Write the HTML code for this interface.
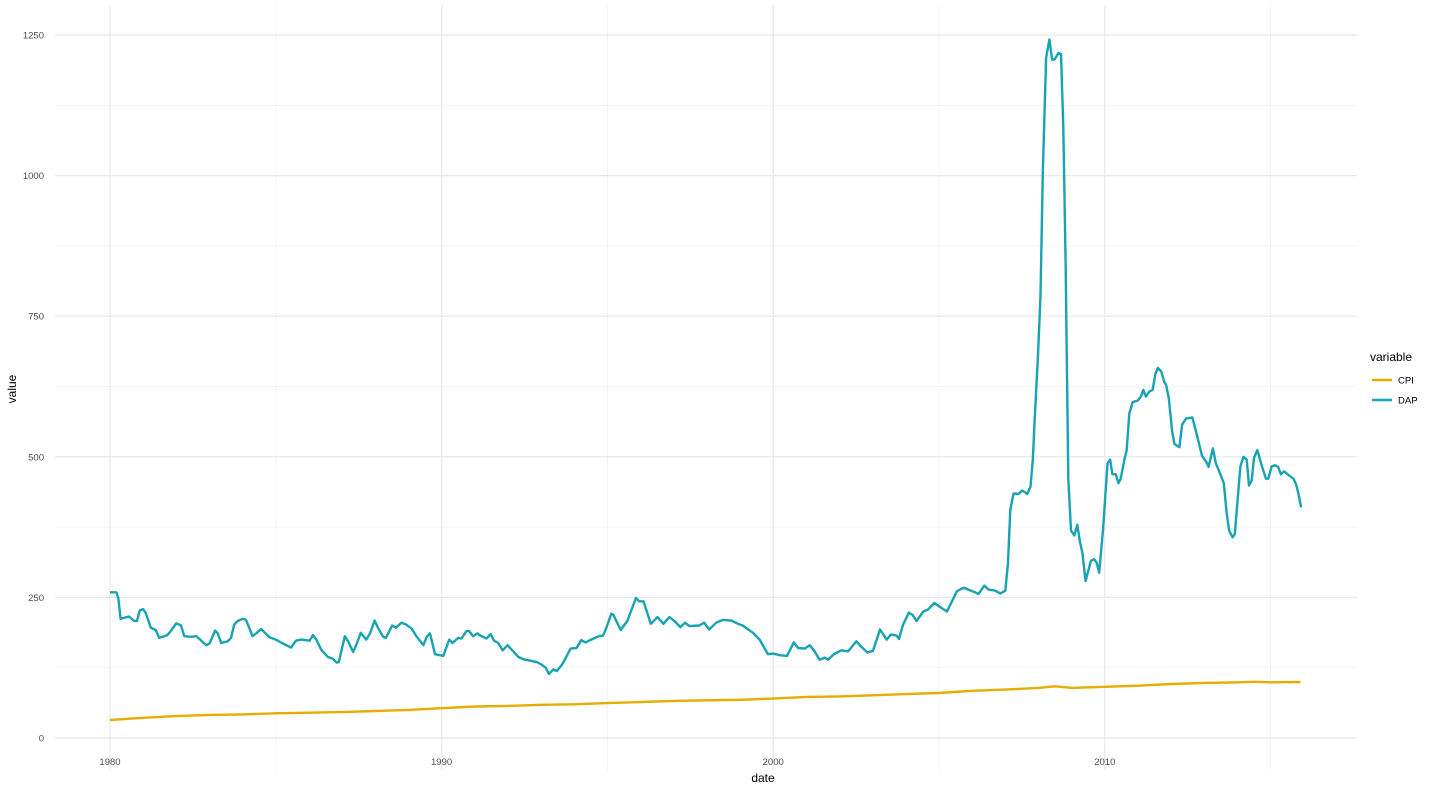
<!DOCTYPE html>
<html><head><meta charset="utf-8"><style>
html,body{margin:0;padding:0;background:#fff;}
svg{display:block;font-family:"Liberation Sans",sans-serif;}
</style></head><body>
<svg id="chart" width="1439" height="792"></svg>
<script>
const xTicks=[1980,1990,2000,2010];
const xMinor=[1985,1995,2005,2015];
const yTicks=[0,250,500,750,1000,1250];
const yMinor=[125,375,625,875,1125];
const seriesNames=["CPI","DAP"];
const cpiDates=[1980,1981,1982,1983,1984,1985,1986,1987,1988,1989,1990,1991,1992,1993,1994,1995,1996,1997,1998,1999,2000,2001,2002,2003,2004,2005,2006,2007,2008,2008.5,2009,2010,2011,2012,2013,2014,2014.5,2015,2015.9];
const cpiValues=[32,36,39,41,42,44,45,46,48,50,53,56,57,59,60,62,64,66,67,68,70,73,74,76,78,80,84,86,89,92,89,91,93,96,98,99,100,99,99.5];
const dapDates=[1980.0,1980.12,1980.19,1980.25,1980.32,1980.57,1980.73,1980.81,1980.9,1981.0,1981.08,1981.23,1981.38,1981.48,1981.73,1981.83,1982.0,1982.14,1982.24,1982.44,1982.6,1982.7,1982.9,1983.0,1983.17,1983.25,1983.35,1983.55,1983.65,1983.75,1983.85,1984.0,1984.1,1984.3,1984.41,1984.56,1984.66,1984.81,1985.0,1985.21,1985.46,1985.61,1985.77,1986.02,1986.12,1986.22,1986.37,1986.57,1986.72,1986.83,1986.9,1987.08,1987.18,1987.33,1987.43,1987.56,1987.73,1987.85,1987.98,1988.08,1988.24,1988.32,1988.51,1988.62,1988.79,1988.92,1989.09,1989.24,1989.45,1989.55,1989.65,1989.8,1990.05,1990.23,1990.33,1990.5,1990.6,1990.75,1990.83,1990.95,1991.08,1991.17,1991.35,1991.48,1991.58,1991.71,1991.84,1991.99,1992.32,1992.47,1992.87,1993.0,1993.14,1993.24,1993.37,1993.47,1993.64,1993.89,1994.07,1994.21,1994.34,1994.55,1994.75,1994.87,1994.95,1995.12,1995.18,1995.4,1995.6,1995.86,1995.96,1996.09,1996.31,1996.51,1996.69,1996.87,1997.02,1997.2,1997.34,1997.47,1997.77,1997.92,1998.07,1998.28,1998.48,1998.73,1998.98,1999.08,1999.39,1999.59,1999.84,1999.99,2000.22,2000.42,2000.62,2000.75,2000.95,2001.1,2001.25,2001.4,2001.55,2001.65,2001.83,2002.06,2002.26,2002.51,2002.66,2002.84,2003.01,2003.22,2003.42,2003.55,2003.72,2003.79,2003.92,2004.09,2004.2,2004.32,2004.53,2004.66,2004.86,2005.08,2005.24,2005.54,2005.74,2006.09,2006.19,2006.37,2006.49,2006.7,2006.85,2007.0,2007.08,2007.15,2007.25,2007.4,2007.51,2007.66,2007.76,2007.83,2007.89,2007.99,2008.06,2008.13,2008.23,2008.33,2008.41,2008.49,2008.6,2008.68,2008.75,2008.82,2008.9,2008.98,2009.08,2009.17,2009.25,2009.32,2009.42,2009.58,2009.68,2009.76,2009.83,2009.95,2010.08,2010.16,2010.23,2010.33,2010.41,2010.48,2010.59,2010.66,2010.74,2010.84,2010.99,2011.09,2011.16,2011.24,2011.34,2011.44,2011.53,2011.6,2011.7,2011.8,2011.85,2011.93,2012.03,2012.1,2012.25,2012.33,2012.45,2012.64,2012.76,2012.93,2013.06,2013.13,2013.26,2013.35,2013.47,2013.59,2013.67,2013.75,2013.85,2013.92,2014.02,2014.09,2014.18,2014.28,2014.35,2014.43,2014.5,2014.6,2014.73,2014.86,2014.93,2015.03,2015.13,2015.23,2015.31,2015.41,2015.53,2015.69,2015.77,2015.84,2015.92];
const dapValues=[259,259,259,249,212,216,208,208,227,229,222,196,192,178,183,190,204,200,181,180,181,176,165,168,191,186,169,172,178,202,208,212,210,181,186,194,188,179,175,168,161,173,175,173,183,175,157,144,141,134,135,181,172,153,166,187,175,187,209,196,180,178,200,196,205,202,195,181,165,180,186,149,146,175,169,178,177,190,190,181,186,182,177,185,173,169,156,165,144,140,135,131,125,114,122,119,131,159,160,174,170,176,181,182,193,221,219,192,208,249,243,243,203,215,203,215,208,197,205,199,200,205,193,205,210,209,202,200,187,175,149,150,147,146,170,160,159,165,154,139,143,139,149,156,154,172,162,152,155,193,175,184,182,176,202,223,219,208,225,228,240,231,225,261,267,259,256,271,264,262,257,262,311,406,435,434,440,434,447,495,570,685,787,1005,1209,1242,1206,1207,1218,1216,1087,835,461,369,360,379,349,330,279,315,318,311,294,372,488,495,469,469,453,461,495,512,577,597,600,607,619,607,616,619,648,658,652,632,628,604,546,523,517,557,568,570,543,502,491,482,515,488,471,453,403,369,357,362,434,483,500,495,449,458,498,512,485,461,461,483,485,482,469,474,468,461,451,434,410];

const NS="http://www.w3.org/2000/svg";
const svg=document.getElementById('chart');
const L=55,R=1357,T=5,B=770;
function xS(yr){return 110+(yr-1980)*33.16;}
function yS(v){return 738-v*0.5624;}
function mk(tag,attrs,parent){const e=document.createElementNS(NS,tag);for(const k in attrs)e.setAttribute(k,attrs[k]);(parent||svg).appendChild(e);return e;}

const grid=mk('g',{});


yMinor.forEach(v=>{const l=mk('line',{x1:L,x2:R,y1:yS(v),y2:yS(v),stroke:'#f2f2f2','stroke-width':0.8},grid);

});
xMinor.forEach(v=>{const l=mk('line',{x1:xS(v),x2:xS(v),y1:T,y2:B,stroke:'#f2f2f2','stroke-width':0.8},grid);

});
yTicks.forEach(v=>{const l=mk('line',{x1:L,x2:R,y1:yS(v),y2:yS(v),stroke:'#e8e8e8','stroke-width':1.2},grid);


const t=mk('text',{x:44,y:yS(v)+3.5,'text-anchor':'end','font-size':9.5,fill:'#4d4d4d'});t.textContent=v;

});
xTicks.forEach(v=>{const l=mk('line',{x1:xS(v),x2:xS(v),y1:T,y2:B,stroke:'#e8e8e8','stroke-width':1.2},grid);


const t=mk('text',{x:xS(v),y:765,'text-anchor':'middle','font-size':9.5,fill:'#4d4d4d'});t.textContent=v;

});

function line(d,v,color,name){const p=d.map((x,i)=>(i?'L':'M')+xS(x).toFixed(1)+','+yS(v[i]).toFixed(1)).join('');
const e=mk('path',{d:p,fill:'none',stroke:color,'stroke-width':2.4,'stroke-linejoin':'round'});

}
line(cpiDates,cpiValues,'#e6ad00','cpi-line');
line(dapDates,dapValues,'#17a3b1','dap-line');

const xt=mk('text',{x:763,y:782,'text-anchor':'middle','font-size':12,fill:'#000'});xt.textContent='date';


const yt=mk('text',{x:16,y:389,'text-anchor':'middle','font-size':12,fill:'#000',transform:'rotate(-90 16 389)'});yt.textContent='value';


const lt=mk('text',{x:1370,y:361,'font-size':12,fill:'#000'});lt.textContent='variable';


const cols=['#e6ad00','#17a3b1'];
seriesNames.forEach((n,i)=>{const y=380+i*20;
const k=mk('line',{x1:1372,x2:1392,y1:y,y2:y,stroke:cols[i],'stroke-width':2.4});


const t=mk('text',{x:1398,y:y+3.5,'font-size':9.5,fill:'#000'});t.textContent=n;

});
</script>
</body></html>
